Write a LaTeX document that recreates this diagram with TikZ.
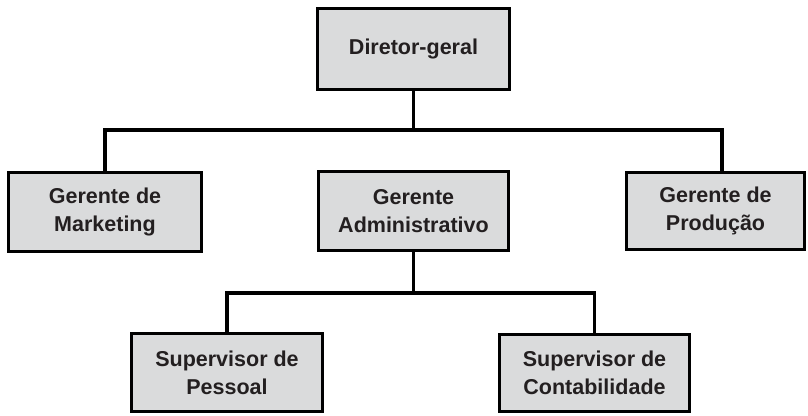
\documentclass[tikz,border=0pt]{standalone}
\usepackage{fontspec}
\setmainfont{Liberation Sans}
\definecolor{boxfill}{HTML}{DADBDC}
\definecolor{ink}{HTML}{231F20}
\begin{document}
\begin{tikzpicture}[x=1pt,y=-1pt,
  unit/.style={draw=black, line width=3.3pt, fill=boxfill, text=ink,
    font=\fontsize{21.5}{28}\selectfont\bfseries, align=center, inner sep=0pt},
  link/.style={draw=black, line width=3.3pt, line join=miter}]
\useasboundingbox (0,0) rectangle (808,415);

% boxes
\node[unit, minimum width=192pt, minimum height=81pt] (dir)   at (413.5,49)  {Diretor-geral};
\node[unit, minimum width=193pt, minimum height=79pt] (mkt)   at (105,212)   {Gerente de\\Marketing};
\node[unit, minimum width=190pt, minimum height=79pt] (adm)   at (413.5,211) {Gerente\\Administrativo};
\node[unit, minimum width=178pt, minimum height=77pt] (prod)  at (715.5,211) {Gerente de\\Produção};
\node[unit, minimum width=191pt, minimum height=78pt] (pes)   at (227,372.5) {Supervisor de\\Pessoal};
\node[unit, minimum width=190pt, minimum height=77pt] (cont)  at (594.5,373) {Supervisor de\\Contabilidade};

% bus junctions
\coordinate (busA) at (413.5,130);
\coordinate (busR) at (722,130);
\coordinate (busB) at (413.5,293);

% connectors
\draw[link] (dir.south) -- (busA);
\draw[link] (mkt.north) |- (busR) -- (busR |- prod.north);
\draw[link] (adm.south) -- (busB);
\draw[link] (pes.north) |- (busB) -| (cont.north);
\end{tikzpicture}
\end{document}
